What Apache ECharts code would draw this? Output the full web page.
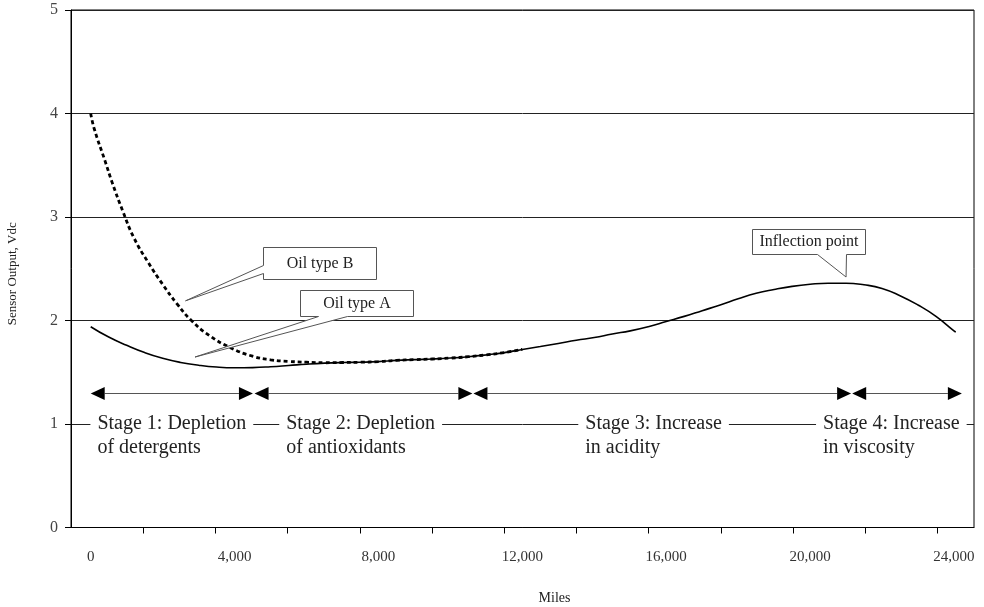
<!DOCTYPE html>
<html>
<head>
<meta charset="utf-8">
<script src="https://cdn.jsdelivr.net/npm/echarts@6/dist/echarts.min.js"></script>
<style>
  html, body { margin: 0; padding: 0; background: #fff; }
  #chart { width: 984px; height: 607px; }
</style>
</head>
<body>
<div id="chart"></div>
<script>
// Oil type A: sensor output (Vdc) against miles driven
const oilAMiles = [0, 500, 1000, 1500, 2000, 2500, 3000, 3500, 4000, 4500, 5000, 5500, 6000, 6500,
  7000, 7500, 8000, 8500, 9000, 9500, 10000, 10500, 11000, 11500, 12000, 12500, 13000, 13500,
  14000, 14500, 15000, 15500, 16000, 16500, 17000, 17500, 18000, 18500, 19000, 19500, 20000,
  20500, 21000, 21500, 22000, 22500, 23000, 23500, 24000, 24050];
const oilAVdc = [1.94, 1.84, 1.76, 1.69, 1.635, 1.595, 1.568, 1.55, 1.543, 1.545, 1.553, 1.565, 1.578, 1.588,
  1.594, 1.597, 1.603, 1.615, 1.622, 1.628, 1.637, 1.65, 1.668, 1.69, 1.72, 1.748, 1.778, 1.81,
  1.835, 1.87, 1.90, 1.94, 1.99, 2.04, 2.095, 2.15, 2.21, 2.263, 2.30, 2.33, 2.35,
  2.36, 2.36, 2.345, 2.31, 2.24, 2.15, 2.04, 1.90, 1.89];

// Oil type B: starts high and joins type A after the first stage
const oilBMiles = [0, 100, 400, 600, 900, 1200, 1600, 2000, 2400, 2800, 3300, 3900, 4500, 5000,
  5500, 6000, 6500, 7000, 7500, 8000, 8500, 9000, 9500, 10000, 10500, 11000, 11500, 12000];
const oilBVdc = [4.0, 3.85, 3.54, 3.33, 3.05, 2.80, 2.56, 2.35, 2.16, 2.0, 1.855, 1.735, 1.655, 1.62,
  1.605, 1.597, 1.592, 1.594, 1.597, 1.603, 1.615, 1.622, 1.628, 1.637, 1.65, 1.668, 1.69, 1.72];

// Axis ticks and labels
const xTickValues = [-550, 1458, 3466, 5474, 7482, 9490, 11498, 13506, 15514, 17522, 19530, 21538, 23546];
const xLabelValues = [0, 4000, 8000, 12000, 16000, 20000, 24000];
const yLabelValues = [0, 1, 2, 3, 4, 5];

// Degradation stages (miles) drawn as double arrows
const stageStart = [0, 4555, 10640, 21170];
const stageEnd = [4510, 10611, 21140, 24220];
const stageArrowVdc = 1.3;
const stageLabelMiles = [186, 5436, 13750, 20360];
const stageLabelVdc = 1;
const stageTitle = ['Stage 1: Depletion', 'Stage 2: Depletion', 'Stage 3: Increase', 'Stage 4: Increase'];
const stageDetail = ['of detergents', 'of antioxidants', 'in acidity', 'in viscosity'];

// Callouts: text, box centre and pointer tip (miles, Vdc)
const calloutText = ['Oil type B', 'Oil type A', 'Inflection point'];
const calloutBox = [[6361, 2.556], [7387, 2.169], [19958, 2.763]];
const calloutTip = [[2636, 2.19], [2900, 1.647], [21000, 2.42]];

const SERIF = '"Times New Roman", "Liberation Serif", serif';
// box size and where the pointer leaves the box, in pixels
const calloutShape = [
  { w: 113, h: 32, side: 'left', a: 2, b: 10 },
  { w: 113, h: 26, side: 'bottom', a: -38.5, b: -9.5 },
  { w: 113, h: 25, side: 'bottom', a: 8.5, b: 37.5 }
];

const zip = (xs, ys) => xs.map((x, i) => [x, ys[i]]);

const chart = echarts.init(document.getElementById('chart'), null, { renderer: 'canvas' });

chart.setOption({
  animation: false,
  backgroundColor: '#fff',
  grid: {
    left: 71, right: 10, top: 10, bottom: 79.5,
    containLabel: false,
    outerBoundsMode: 'none',
    show: true, borderColor: '#000', borderWidth: 1, backgroundColor: 'transparent'
  },
  xAxis: {
    type: 'value',
    min: -548, max: 24557,
    name: 'Miles',
    nameLocation: 'middle',
    nameGap: 64,
    nameTextStyle: { fontFamily: SERIF, fontSize: 14, color: '#222', padding: [0, 0, 0, 64] },
    axisLine: { show: true, onZero: false, lineStyle: { color: '#000', width: 1 } },
    axisTick: { show: true, inside: false, length: 6, customValues: xTickValues, lineStyle: { color: '#000' } },
    axisLabel: {
      customValues: xLabelValues, margin: 22,
      fontFamily: SERIF, fontSize: 15, color: '#333',
      formatter: v => v.toLocaleString('en-US')
    },
    splitLine: { show: false }
  },
  yAxis: {
    type: 'value',
    min: 0, max: 5, interval: 1,
    name: 'Sensor Output, Vdc',
    nameLocation: 'middle',
    nameGap: 52,
    nameRotate: 90,
    nameTextStyle: { fontFamily: SERIF, fontSize: 13, color: '#222', padding: [0, 10, 0, 0] },
    axisLine: { show: true, onZero: false, lineStyle: { color: '#000', width: 1 } },
    axisTick: { show: true, inside: false, length: 6, lineStyle: { color: '#000' } },
    axisLabel: {
      customValues: yLabelValues, margin: 13,
      fontFamily: SERIF, fontSize: 16, color: '#444'
    },
    splitLine: { show: true, lineStyle: { color: '#222', width: 1 } }
  },
  series: [
    {
      name: 'Oil type A',
      type: 'line',
      data: zip(oilAMiles, oilAVdc),
      showSymbol: false,
      smooth: true,
      lineStyle: { color: '#000', width: 1.6 },
      z: 3
    },
    {
      name: 'Oil type B',
      type: 'line',
      data: zip(oilBMiles, oilBVdc),
      showSymbol: false,
      smooth: true,
      lineStyle: { color: '#000', width: 2.8, type: [4, 3] },
      z: 4
    }
  ]
});

const toPx = p => chart.convertToPixel({ gridIndex: 0 }, p);
const elements = [];

// stage arrows
stageStart.forEach((s, i) => {
  const a = toPx([s, stageArrowVdc]);
  const b = toPx([stageEnd[i], stageArrowVdc]);
  const y = Math.round(a[1]) + 0.5;
  const L = 14, H = 6.5;
  elements.push({
    type: 'line', z: 100,
    shape: { x1: a[0] + L, y1: y, x2: b[0] - L, y2: y },
    style: { stroke: '#555', lineWidth: 1 }
  });
  elements.push({
    type: 'polygon', z: 100,
    shape: { points: [[a[0], y], [a[0] + L, y - H], [a[0] + L, y + H]] },
    style: { fill: '#000' }
  });
  elements.push({
    type: 'polygon', z: 100,
    shape: { points: [[b[0], y], [b[0] - L, y - H], [b[0] - L, y + H]] },
    style: { fill: '#000' }
  });
});

// stage labels over the 1 Vdc gridline
stageLabelMiles.forEach((m, i) => {
  const p = toPx([m, stageLabelVdc]);
  elements.push({
    type: 'text', z: 101,
    x: p[0] - 7, y: p[1] - 14,
    style: {
      text: stageTitle[i] + '\n' + stageDetail[i],
      font: '20px ' + SERIF,
      fill: '#222',
      lineHeight: 24,
      align: 'left',
      verticalAlign: 'top',
      backgroundColor: '#fff',
      padding: [2, 7, 2, 7]
    }
  });
});

// callouts
calloutText.forEach((t, i) => {
  const c = toPx(calloutBox[i]);
  const tip = toPx(calloutTip[i]);
  const s = calloutShape[i];
  const L = Math.round(c[0] - s.w / 2) + 0.5, R = L + s.w;
  const T = Math.round(c[1] - s.h / 2) + 0.5, B = T + s.h;
  let pts;
  if (s.side === 'left') {
    const cy = (T + B) / 2;
    pts = [[L, T], [R, T], [R, B], [L, B], [L, cy + s.b], tip, [L, cy + s.a]];
  } else {
    const cx = (L + R) / 2;
    pts = [[L, T], [R, T], [R, B], [cx + s.b, B], tip, [cx + s.a, B], [L, B]];
  }
  elements.push({
    type: 'polygon', z: 102,
    shape: { points: pts },
    style: { fill: '#fff', stroke: '#555', lineWidth: 1 }
  });
  elements.push({
    type: 'text', z: 103,
    x: (L + R) / 2, y: (T + B) / 2,
    style: {
      text: t, font: '16px ' + SERIF, fill: '#222',
      align: 'center', verticalAlign: 'middle'
    }
  });
});

chart.setOption({ graphic: { elements } });
</script>
</body>
</html>
